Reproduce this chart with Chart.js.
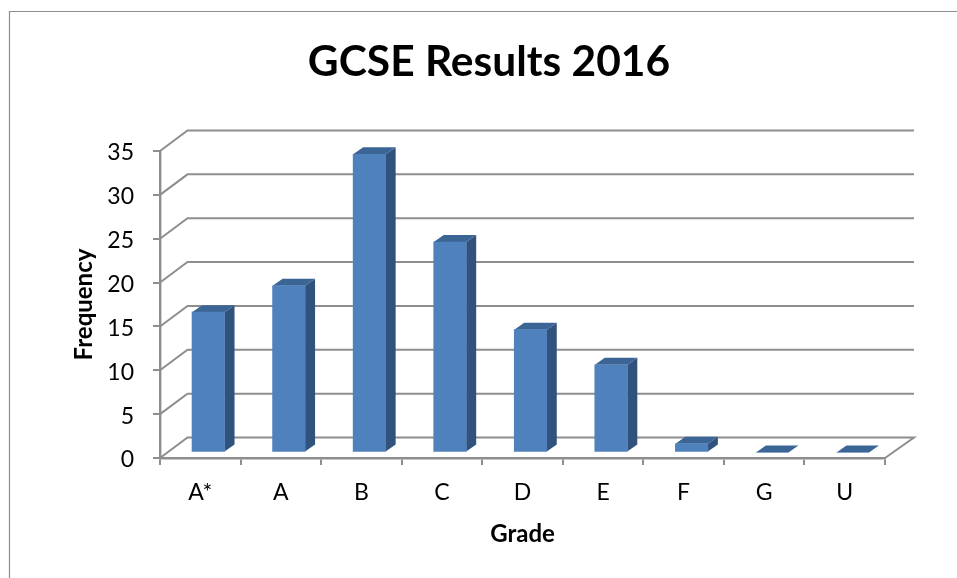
<!DOCTYPE html>
<html>
<head>
<meta charset="utf-8">
<title>GCSE Results 2016</title>
<script src="https://cdn.jsdelivr.net/npm/chart.js@4"></script>
<style>
    html, body { margin: 0; padding: 0; background: #fff; overflow: hidden; }
    canvas { display: block; }
</style>
</head>
<body>
<canvas id="gcseChart" width="957" height="578"></canvas>
<script>
// Values
const grades = ["A*", "A", "B", "C", "D", "E", "F", "G", "U"];
const frequency = [16, 19, 34, 24, 14, 10, 1, 0, 0];

const GREY = "#8e8e8e";
const FONT = "Lato, Carlito, sans-serif";

// 3D look: wall depth and how far the bars stand off the front edge
const WALL_DX = 27.5, WALL_DY = 20.5;
const BAR_DX = 8, BAR_DY = 5.5;
const SIDE_DX = 10, SIDE_DY = 7;

function face(ctx, pts, color) {
    ctx.beginPath();
    pts.forEach((p, i) => i ? ctx.lineTo(p[0], p[1]) : ctx.moveTo(p[0], p[1]));
    ctx.closePath();
    ctx.fillStyle = color;
    ctx.fill();
}

const walls3d = {
    id: "walls3d",
    beforeDraw(chart) {
        // outer frame of the chart object
        const ctx = chart.ctx;
        ctx.save();
        ctx.strokeStyle = GREY;
        ctx.lineWidth = 1.2;
        ctx.beginPath();
        ctx.moveTo(9.5, chart.height);
        ctx.lineTo(9.5, 11.5);
        ctx.lineTo(chart.width, 11.5);
        ctx.stroke();
        ctx.restore();
    },
    beforeDatasetsDraw(chart) {
        const ctx = chart.ctx, y = chart.scales.y;
        const l = chart.chartArea.left, r = chart.chartArea.right;
        ctx.save();
        ctx.strokeStyle = GREY;
        ctx.lineWidth = 2;
        y.ticks.forEach(t => {
            const py = y.getPixelForValue(t.value);
            ctx.beginPath();
            ctx.moveTo(l, py);
            ctx.lineTo(l + WALL_DX, py - WALL_DY);
            ctx.lineTo(r + WALL_DX + 1.5, py - WALL_DY);
            if (t.value === 0) ctx.lineTo(r, py);
            ctx.stroke();
        });
        ctx.restore();
    },
    beforeDatasetDraw(chart) {
        const ctx = chart.ctx;
        ctx.save();
        ctx.translate(BAR_DX, -BAR_DY);
        chart.getDatasetMeta(0).data.forEach(bar => {
            const x1 = bar.x + bar.width / 2, x0 = bar.x - bar.width / 2;
            // side face
            if (bar.base - bar.y > 0) {
                face(ctx, [[x1, bar.y], [x1 + SIDE_DX, bar.y - SIDE_DY],
                           [x1 + SIDE_DX, bar.base - SIDE_DY], [x1, bar.base]], "#30527c");
            }
            // top face
            face(ctx, [[x0, bar.y], [x0 + SIDE_DX, bar.y - SIDE_DY],
                       [x1 + SIDE_DX, bar.y - SIDE_DY], [x1, bar.y]], "#3b6595");
        });
    },
    afterDatasetDraw(chart) {
        chart.ctx.restore();
    }
};

new Chart(document.getElementById("gcseChart"), {
    type: "bar",
    data: {
        labels: grades,
        datasets: [{
            label: "Frequency",
            data: frequency,
            backgroundColor: "#4f81bd",
            borderWidth: 0,
            barThickness: 32.5
        }]
    },
    options: {
        responsive: false,
        animation: false,
        layout: { autoPadding: false, padding: { left: 93, right: 72, top: 0, bottom: 0 } },
        plugins: {
            legend: { display: false },
            tooltip: { enabled: false },
            title: {
                display: true,
                text: "GCSE Results 2016",
                color: "#000",
                font: { family: FONT, size: 42.5, weight: "bold", lineHeight: 1.2 },
                padding: { top: 37, bottom: 63 }
            }
        },
        scales: {
            x: {
                afterFit(s) { s.height = 120; },
                grid: { display: true, drawOnChartArea: false, color: GREY, lineWidth: 2, tickLength: 7 },
                border: { color: GREY, width: 2.4 },
                ticks: { color: "#000", font: { family: FONT, size: 23 }, padding: 14, maxRotation: 0 },
                title: {
                    display: true,
                    text: "Grade",
                    color: "#000",
                    font: { family: FONT, size: 24, weight: "bold" },
                    padding: { top: 0, bottom: 29 }
                }
            },
            y: {
                min: 0,
                max: 35,
                afterFit(s) { s.width = 67; },
                grid: { display: true, drawOnChartArea: false, color: GREY, lineWidth: 2, tickLength: 7 },
                border: { color: GREY, width: 2.4 },
                ticks: { stepSize: 5, color: "#000", font: { family: FONT, size: 23 }, padding: 19, labelOffset: 2 },
                title: {
                    display: true,
                    text: "Frequency",
                    color: "#000",
                    font: { family: FONT, size: 24, weight: "bold" },
                    padding: { top: -23, bottom: 0 }
                }
            }
        }
    },
    plugins: [walls3d]
});
</script>
</body>
</html>
